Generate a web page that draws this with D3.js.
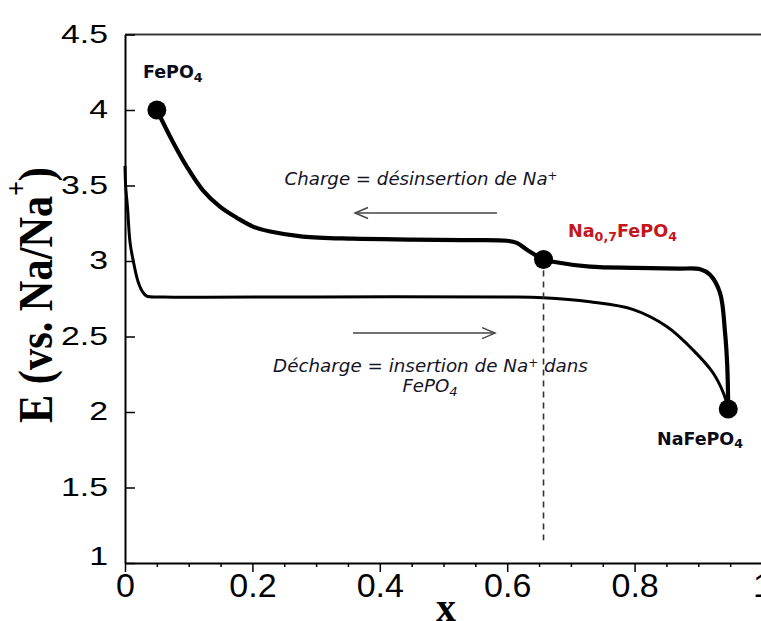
<!DOCTYPE html>
<html><head><meta charset="utf-8">
<script src="https://cdn.jsdelivr.net/npm/d3@7"></script>
<style>body{margin:0;background:#fff}svg{display:block;background:#fff}</style>
</head><body>
<svg id="chart" width="761" height="621"></svg>
<script>
// ---- data ----
const chargeX = [0.05,0.075,0.097,0.122,0.149,0.176,0.201,0.228,0.279,0.358,0.45,0.53,0.6,0.615,0.631,0.657,0.672,0.73,0.8,0.87,0.903,0.918,0.934,0.942,0.9455,0.947];
const chargeE = [4.0,3.79,3.625,3.47,3.36,3.285,3.228,3.195,3.162,3.148,3.142,3.138,3.134,3.12,3.075,3.01,2.995,2.963,2.955,2.95,2.945,2.91,2.79,2.525,2.3,2.02];
const dischargeX = [0,0.001,0.004,0.008,0.013,0.02,0.027,0.034,0.06,0.3,0.6,0.656,0.73,0.797,0.851,0.892,0.923,0.94,0.947];
const dischargeE = [3.63,3.5,3.35,3.12,3.0,2.87,2.8,2.768,2.762,2.762,2.762,2.757,2.73,2.68,2.565,2.41,2.26,2.12,2.02];
const markerX = [0.05,0.657,0.947];
const markerE = [4.0,3.01,2.02];
const xTickValues = [0,0.2,0.4,0.6,0.8,1];
const xTickLabels = ["0","0.2","0.4","0.6","0.8","1"];
const xMinorTicks = [0.05,0.1,0.15,0.25,0.3,0.35,0.45,0.5,0.55,0.65,0.7,0.75,0.85,0.9,0.95];
const yTickValues = [1,1.5,2,2.5,3,3.5,4,4.5];
const yTickLabels = ["1","1.5","2","2.5","3","3.5","4","4.5"];
const dashX = 0.657;
const dashE = [3.01,1.15];

const svg = d3.select("#chart");
const x = d3.scaleLinear().domain([0,1]).range([125,762]);
const y = d3.scaleLinear().domain([1,4.5]).range([563,34.5]);

// top frame line
svg.append("line").attr("x1",x(0)).attr("x2",x(1)).attr("y1",y(4.5)).attr("y2",y(4.5))
  .attr("stroke","#3a3a3a").attr("stroke-width",2);

// y axis
const yAxis = d3.axisLeft(y).tickValues(yTickValues).tickFormat((d,i)=>yTickLabels[i])
  .tickSizeInner(-10).tickSizeOuter(0).tickPadding(17);
const gy = svg.append("g").attr("transform",`translate(${x(0)},0)`).call(yAxis);
gy.select(".domain").attr("stroke","#000").attr("stroke-width",2);
gy.selectAll(".tick line").attr("stroke","#000").attr("stroke-width",1.5);
gy.selectAll(".tick text").attr("font-family","'Liberation Sans', Arial, sans-serif")
  .attr("font-size",26).attr("fill","#000").attr("x",-17/1.3).attr("transform","scale(1.3,1)")
  .attr("dy",(d,i)=> i===0 ? "0.05em" : "0.3em");

// x axis (minor + major)
const xAxisMinor = d3.axisBottom(x).tickValues(xMinorTicks).tickSize(4).tickSizeOuter(0).tickFormat("");
const gxm = svg.append("g").attr("transform",`translate(0,${y(1)})`).call(xAxisMinor);
gxm.select(".domain").remove();
gxm.selectAll(".tick line").attr("stroke","#000").attr("stroke-width",1.5);
const xAxis = d3.axisBottom(x).tickValues(xTickValues).tickFormat((d,i)=>xTickLabels[i])
  .tickSizeInner(9).tickSizeOuter(0).tickPadding(1);
const gx = svg.append("g").attr("transform",`translate(0,${y(1)})`).call(xAxis);
gx.select(".domain").attr("stroke","#000").attr("stroke-width",2);
gx.selectAll(".tick line").attr("stroke","#000").attr("stroke-width",1.5);
gx.selectAll(".tick text").attr("font-family","'Liberation Sans', Arial, sans-serif")
  .attr("font-size",34).attr("fill","#000");

// curves
const line = d3.line().x(d=>x(d[0])).y(d=>y(d[1])).curve(d3.curveCatmullRom.alpha(0.5));
const dischargeData = dischargeX.map((v,i)=>[v,dischargeE[i]]);
const chargeData = chargeX.map((v,i)=>[v,chargeE[i]]);
svg.append("path").attr("d",line(dischargeData)).attr("fill","none").attr("stroke","#000")
  .attr("stroke-width",3).attr("stroke-linejoin","round");
svg.append("path").attr("d",line(chargeData)).attr("fill","none").attr("stroke","#000")
  .attr("stroke-width",4.2).attr("stroke-linejoin","round").attr("stroke-linecap","round");

// dashed line
svg.append("line").attr("x1",x(dashX)).attr("x2",x(dashX)).attr("y1",y(dashE[0])).attr("y2",y(dashE[1]))
  .attr("stroke","#333").attr("stroke-width",1.6).attr("stroke-dasharray","6,5");

// markers
svg.selectAll("circle.m").data(markerX).join("circle").attr("class","m")
  .attr("cx",d=>x(d)).attr("cy",(d,i)=>y(markerE[i])).attr("r",9.5).attr("fill","#000");

// rich text helper
function rich(sel, parts, fs, subScale, subShift, supShift){
  sel.selectAll("tspan").remove();
  let off = 0;
  parts.forEach(([t,k])=>{
    const sp = sel.append("tspan").text(t);
    let target = 0;
    if(k==="sub"){ sp.attr("font-size",fs*subScale); target = subShift*fs; }
    else if(k==="sup"){ sp.attr("font-size",fs*subScale); target = -supShift*fs; }
    else sp.attr("font-size",fs);
    sp.attr("dy",target-off);
    off = target;
  });
}
function fitRich(sel, parts, fs, subScale, subShift, supShift, targetW){
  rich(sel, parts, fs, subScale, subShift, supShift);
  const w = sel.node().getComputedTextLength();
  const fs2 = fs*targetW/w;
  rich(sel, parts, fs2, subScale, subShift, supShift);
  return fs2;
}

// point labels
const lblFont = "'DejaVu Sans', Verdana, sans-serif";
const t1 = svg.append("text").attr("x",143).attr("y",78).attr("font-family",lblFont)
  .attr("font-weight","bold").attr("fill","#0b0b1a");
rich(t1, [["FePO",""],["4","sub"]], 17.5, 0.72, 0.2, 0);
const t2 = svg.append("text").attr("x",568).attr("y",237).attr("font-family",lblFont)
  .attr("font-weight","bold").attr("fill","#c4161c");
fitRich(t2, [["Na",""],["0,7","sub"],["FePO",""],["4","sub"]], 18, 0.72, 0.2, 0, 109);
const t3 = svg.append("text").attr("x",657).attr("y",445).attr("font-family",lblFont)
  .attr("font-weight","bold").attr("fill","#0b0b1a");
fitRich(t3, [["NaFePO",""],["4","sub"]], 18, 0.72, 0.2, 0, 86);

// annotations
const annFont = "'DejaVu Sans', Verdana, sans-serif";
const annColor = "#141428";
const a1 = svg.append("text").attr("x",421).attr("y",185).attr("text-anchor","middle")
  .attr("font-family",annFont).attr("font-style","italic").attr("fill",annColor);
const fsA = fitRich(a1, [["Charge = désinsertion de Na",""],["+","sup"]], 18, 0.65, 0, 0.3, 273);
const a2 = svg.append("text").attr("x",430.5).attr("y",372).attr("text-anchor","middle")
  .attr("font-family",annFont).attr("font-style","italic").attr("fill",annColor);
fitRich(a2, [["Décharge = insertion de Na",""],["+","sup"],[" dans",""]], 18, 0.65, 0, 0.3, 315);
const a3 = svg.append("text").attr("x",430).attr("y",392).attr("text-anchor","middle")
  .attr("font-family",annFont).attr("font-style","italic").attr("fill",annColor);
rich(a3, [["FePO",""],["4","sub"]], fsA, 0.72, 0.22, 0);

// arrows
function arrow(x1,x2,yy){
  const dir = Math.sign(x2-x1);
  svg.append("line").attr("x1",x1).attr("x2",x2).attr("y1",yy).attr("y2",yy)
    .attr("stroke","#444").attr("stroke-width",1.4);
  svg.append("path").attr("d",`M${x2-dir*13},${yy-5.5}L${x2},${yy}L${x2-dir*13},${yy+5.5}`)
    .attr("fill","none").attr("stroke","#444").attr("stroke-width",1.4);
}
arrow(x(0.584), x(0.361), y(3.318));
arrow(x(0.358), x(0.581), y(2.523));

// axis titles
const yt = svg.append("text").attr("font-family","'Liberation Serif', 'Times New Roman', serif")
  .attr("font-weight","bold").attr("fill","#000");
yt.append("tspan").text("E (vs. Na/Na").attr("font-size",38);
yt.append("tspan").text("+").attr("font-size",23).attr("dy",-20);
yt.append("tspan").text(")").attr("font-size",38).attr("dy",20);
const ylen = yt.node().getComputedTextLength();
yt.attr("transform",`translate(52,423) rotate(-90) scale(${256/ylen},1.3)`);

svg.append("text").attr("x",446).attr("y",621).attr("text-anchor","middle")
  .attr("font-family","'Liberation Serif', 'Times New Roman', serif").attr("font-weight","bold")
  .attr("font-size",40).attr("fill","#000").text("x");
</script>
</body></html>
